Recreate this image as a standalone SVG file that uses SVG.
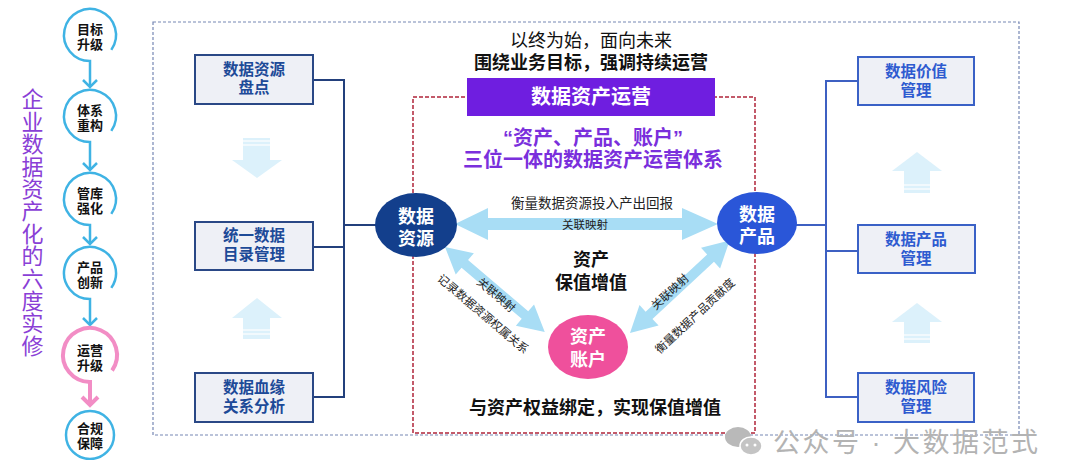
<svg xmlns="http://www.w3.org/2000/svg" width="1080" height="460" viewBox="0 0 1080 460">
<defs>
<style>
.cjk{font-family:"Liberation Sans","Noto Sans CJK SC",sans-serif;}
.b{font-weight:bold;}
.step{fill:none;stroke:#3fb3e4;stroke-width:2.5;}
.stepPink{fill:none;stroke:#f28dc5;stroke-width:4;}
.stepT{font-size:13px;font-weight:bold;fill:#111;text-anchor:middle;}
.lbox{fill:#eef0f6;stroke:#2a4886;stroke-width:2;}
.rbox{fill:#eef0f6;stroke:#3a61c6;stroke-width:2;}
.lT{font-size:15.5px;font-weight:bold;fill:#1d4a98;text-anchor:middle;}
.rT{font-size:15.5px;font-weight:bold;fill:#2e5bd0;text-anchor:middle;}
.lcon{fill:none;stroke:#23407c;stroke-width:2;}
.rcon{fill:none;stroke:#3d60c2;stroke-width:2;}
.dbl{fill:#a8ddf5;}
.faint{fill:#dcf1fb;}
.cT{font-size:18px;font-weight:bold;fill:#fff;text-anchor:middle;}
.lab{font-size:11.5px;fill:#222;text-anchor:middle;}
</style>
</defs>

<!-- outer frames -->
<rect x="153" y="22" width="866" height="413" fill="none" stroke="#7687b4" stroke-width="1.2" stroke-dasharray="3 2"/>
<rect x="413" y="97" width="342" height="336" fill="none" stroke="#b0243a" stroke-width="1.5" stroke-dasharray="4 2"/>

<!-- left sidebar title -->
<g id="sidebar-title">
<text class="cjk" x="30" y="88" font-size="22" fill="#8a3fd6" letter-spacing="0.4" style="writing-mode:vertical-rl;text-orientation:upright">企业数据资产化的六度实修</text>
</g>

<!-- step chain -->
<g id="steps-connectors">
<path class="step" d="M111.3 49.9 A26 26 0 1 0 90 61 L90 87"/>
<polyline class="step" points="83,80 90,87 97,80"/>
<path class="step" d="M111.3 130.9 A26 26 0 1 0 90 142 L90 170"/>
<polyline class="step" points="83,163 90,170 97,163"/>
<path class="step" d="M111.3 213.9 A26 26 0 1 0 90 225 L90 244"/>
<polyline class="step" points="83,237 90,244 97,237"/>
<path class="step" d="M111.3 287.9 A26 26 0 1 0 90 299 L90 325"/>
<polyline class="step" points="83,318 90,325 97,318"/>
<path class="stepPink" d="M112.1 370.5 A27 27 0 1 0 90 382 L90 405"/>
<polyline class="stepPink" points="82,397 90,405 98,397"/>
<circle class="step" cx="90" cy="435" r="24"/>
</g>
<g id="step1" class="cjk"><text class="stepT" x="90" y="34">目标<tspan x="90" dy="15">升级</tspan></text></g>
<g id="step2" class="cjk"><text class="stepT" x="90" y="115">体系<tspan x="90" dy="15">重构</tspan></text></g>
<g id="step3" class="cjk"><text class="stepT" x="90" y="198">管库<tspan x="90" dy="15">强化</tspan></text></g>
<g id="step4" class="cjk"><text class="stepT" x="90" y="272">产品<tspan x="90" dy="15">创新</tspan></text></g>
<g id="step5" class="cjk"><text class="stepT" x="90" y="355">运营<tspan x="90" dy="15">升级</tspan></text></g>
<g id="step6" class="cjk"><text class="stepT" x="90" y="433">合规<tspan x="90" dy="15">保障</tspan></text></g>

<!-- connectors -->
<g id="connectors">
<polyline class="lcon" points="313,80 344,80 344,397 313,397"/>
<line class="lcon" x1="313" y1="247" x2="344" y2="247"/>
<line class="lcon" x1="344" y1="225" x2="378" y2="225"/>
<polyline class="rcon" points="858,81 826,81 826,397 858,397"/>
<line class="rcon" x1="826" y1="251" x2="858" y2="251"/>
<line class="rcon" x1="795" y1="225" x2="826" y2="225"/>
<g class="faint">
<rect x="243" y="138" width="27" height="23"/>
<polygon points="232,160 282,160 257,178"/>
<polygon points="257,298 282,318 232,318"/>
<rect x="243" y="317" width="27" height="22"/>
<polygon points="917,152 942,171 892,171"/>
<rect x="904" y="170" width="26" height="23"/>
<polygon points="917,303 942,322 892,322"/>
<rect x="904" y="321" width="26" height="22"/>
</g>
<g stroke="#fff" stroke-width="1.2">
<line x1="243" y1="141" x2="270" y2="141"/><line x1="243" y1="145" x2="270" y2="145"/>
<line x1="243" y1="334" x2="270" y2="334"/><line x1="243" y1="330" x2="270" y2="330"/>
<line x1="904" y1="189" x2="930" y2="189"/><line x1="904" y1="185" x2="930" y2="185"/>
<line x1="904" y1="339" x2="930" y2="339"/><line x1="904" y1="335" x2="930" y2="335"/>
</g>
<polygon class="dbl" points="455,224 488,208 488,218 682,218 682,208 718,224 682,240 682,230 488,230 488,240"/>
<polygon class="dbl" transform="translate(445,247) rotate(40.4)" points="0,0 26,-14 26,-5 105,-5 105,-14 131,0 105,14 105,5 26,5 26,14"/>
<polygon class="dbl" transform="translate(630,333) rotate(-42.9)" points="0,0 26,-14 26,-5 110,-5 110,-14 136,0 110,14 110,5 26,5 26,14"/>
</g>

<!-- connector labels -->
<g id="connector-labels" class="cjk">
<text x="592" y="208" font-size="13.5" fill="#222" text-anchor="middle">衡量数据资源投入产出回报</text>
<text class="lab" x="585" y="229" font-size="11">关联映射</text>
<text class="lab" transform="translate(496,295) rotate(40.4)" y="4">关联映射</text>
<text class="lab" transform="translate(483,314) rotate(40.4)" y="4">记录数据资源权属关系</text>
<text class="lab" transform="translate(670,292) rotate(-42.9)" y="4">关联映射</text>
<text class="lab" transform="translate(695,316) rotate(-42.9)" y="4" font-size="12">衡量数据产品贡献度</text>
</g>

<!-- headings -->
<g id="heading" class="cjk" text-anchor="middle">
<text x="591" y="47" font-size="18" fill="#111">以终为始，面向未来<tspan x="591" dy="22" font-weight="bold">围绕业务目标，强调持续运营</tspan></text>
</g>
<g id="ops-bar">
<rect x="467" y="78" width="248" height="38" fill="#6f1ee0"/>
<text class="cjk" x="591" y="104" font-size="20" font-weight="bold" fill="#fff" text-anchor="middle">数据资产运营</text>
</g>
<g id="trinity" class="cjk b" text-anchor="middle" fill="#7a2fdc" font-size="20">
<text x="593" y="145">“资产、产品、账户”<tspan x="593" dy="22">三位一体的数据资产运营体系</tspan></text>
</g>
<g id="center-label" class="cjk b" text-anchor="middle" fill="#111" font-size="18">
<text x="591" y="266">资产<tspan x="591" dy="23">保值增值</tspan></text>
</g>
<g id="bottom-label" class="cjk b" text-anchor="middle" fill="#111" font-size="18">
<text x="595" y="414">与资产权益绑定，实现保值增值</text>
</g>

<!-- left boxes -->
<g id="box-inventory" class="cjk"><rect class="lbox" x="195" y="55" width="118" height="49"/><text class="lT" x="254" y="75">数据资源<tspan x="254" dy="18">盘点</tspan></text></g>
<g id="box-catalog" class="cjk"><rect class="lbox" x="195" y="222" width="118" height="48"/><text class="lT" x="254" y="241">统一数据<tspan x="254" dy="19">目录管理</tspan></text></g>
<g id="box-lineage" class="cjk"><rect class="lbox" x="195" y="373" width="118" height="49"/><text class="lT" x="254" y="393">数据血缘<tspan x="254" dy="19">关系分析</tspan></text></g>

<!-- right boxes -->
<g id="box-value" class="cjk"><rect class="rbox" x="858" y="57" width="116" height="48"/><text class="rT" x="916" y="77">数据价值<tspan x="916" dy="19">管理</tspan></text></g>
<g id="box-product" class="cjk"><rect class="rbox" x="858" y="225" width="117" height="48"/><text class="rT" x="916" y="245">数据产品<tspan x="916" dy="19">管理</tspan></text></g>
<g id="box-risk" class="cjk"><rect class="rbox" x="858" y="373" width="116" height="49"/><text class="rT" x="916" y="393">数据风险<tspan x="916" dy="19">管理</tspan></text></g>

<!-- central nodes -->
<g id="node-resource" class="cjk"><ellipse cx="416" cy="225" rx="41" ry="32" fill="#133f8c"/><text class="cT" x="416" y="223">数据<tspan x="416" dy="22">资源</tspan></text></g>
<g id="node-product" class="cjk"><ellipse cx="757" cy="223" rx="40" ry="31" fill="#2a56d8"/><text class="cT" x="757" y="221">数据<tspan x="757" dy="22">产品</tspan></text></g>
<g id="node-account" class="cjk"><ellipse cx="588" cy="347" rx="40" ry="32" fill="#ef509c"/><text class="cT" x="588" y="343">资产<tspan x="588" dy="23">账户</tspan></text></g>

<!-- watermark -->
<g id="watermark">
<ellipse cx="738" cy="437" rx="13" ry="10" fill="#b9b9b9"/>
<ellipse cx="751" cy="446" rx="11" ry="9" fill="#c4c4c4" stroke="#fff" stroke-width="1.5"/>
<circle cx="747" cy="445" r="1.5" fill="#fff"/><circle cx="755" cy="445" r="1.5" fill="#fff"/>
<text class="cjk" x="773" y="452" font-size="27" fill="#b3b3b3" textLength="265" lengthAdjust="spacing">公众号 · 大数据范式</text>
</g>
</svg>
